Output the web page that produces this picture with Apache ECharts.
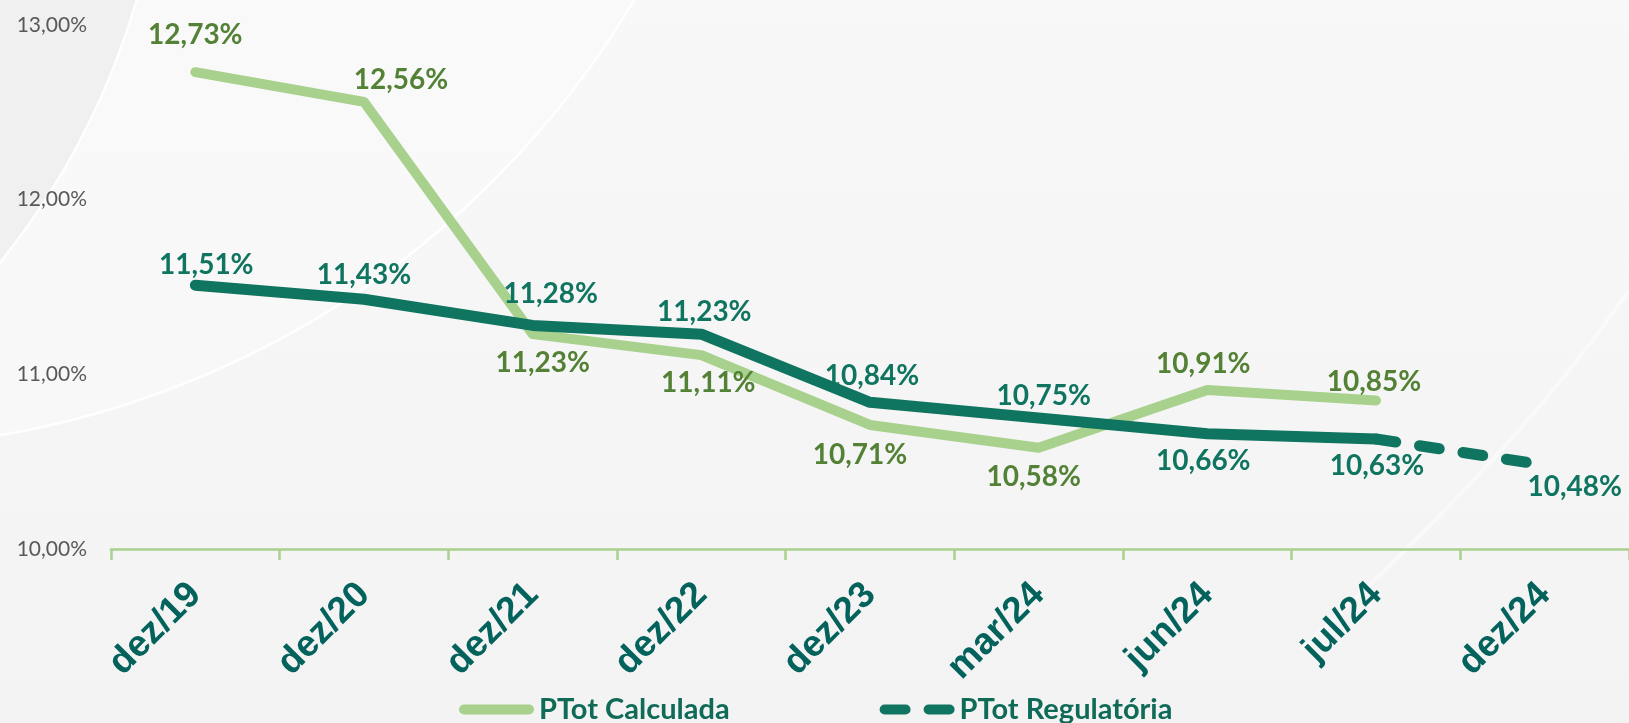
<!DOCTYPE html>
<html>
<head>
<meta charset="utf-8">
<title>PTot Calculada x PTot Regulatória</title>
<script src="https://cdn.jsdelivr.net/npm/echarts@6/dist/echarts.min.js"></script>
<style>
  html, body { margin: 0; padding: 0; background: #f6f6f6; }
  #chart { width: 1629px; height: 723px; }
</style>
</head>
<body>
<div id="chart"></div>
<script>
// Periods on the horizontal axis
const categories = ['dez/19', 'dez/20', 'dez/21', 'dez/22', 'dez/23', 'mar/24', 'jun/24', 'jul/24', 'dez/24'];

// PTot values (%)
const calculada = [12.73, 12.56, 11.23, 11.11, 10.71, 10.58, 10.91, 10.85, null];
const regulatoria = [11.51, 11.43, 11.28, 11.23, 10.84, 10.75, 10.66, 10.63, null];
// projected stretch of the regulatory line (drawn dashed)
const regulatoriaProjecao = [null, null, null, null, null, null, null, 10.63, 10.48];

// value axis range
const yMin = 10, yMax = 13, yStep = 1;

// label placement around each point: [dx, dy] from the point to the label centre
const calculadaLabelOffsets = [[0, -37], [37, -22], [10, 29], [7, 28], [-10, 30], [-5, 29], [-4, -26], [-2, -19], null];
const regulatoriaLabelOffsets = [[11, -20], [0, -24], [18, -31], [3, -22], [2, -26], [5, -22], [-4, 27], [1, 27], null];
const projecaoLabelOffsets = [null, null, null, null, null, null, null, null, [30, 22]];

const COLOR_CALC = '#a9d18e';
const COLOR_CALC_TEXT = '#538135';
const COLOR_REG = '#107560';
const COLOR_AXIS_TEXT = '#03625c';
const HIDDEN = 'rgba(0,0,0,0)';

const pct = v => v.toFixed(2).replace('.', ',') + '%';

function withLabels(values, offsets, textColor) {
  return values.map((v, i) => {
    if (v === null) return null;
    const off = offsets[i];
    return {
      value: v,
      label: off ? {
        show: true,
        position: 'inside',
        offset: off,
        formatter: p => pct(p.value),
        color: textColor,
        fontFamily: 'Lato',
        fontWeight: 'bold',
        fontSize: 28
      } : { show: false }
    };
  });
}

const chart = echarts.init(document.getElementById('chart'), null, { renderer: 'canvas' });

chart.setOption({
  animation: false,
  backgroundColor: '#f6f6f6',
  graphic: [
    {
      type: 'rect', z: -10, silent: true,
      shape: { x: 0, y: 0, width: 1629, height: 723 },
      style: {
        fill: new echarts.graphic.LinearGradient(0, 0, 0, 1, [
          { offset: 0, color: '#f8f8f8' },
          { offset: 1, color: '#f3f3f3' }
        ])
      }
    },
    {
      type: 'circle', z: -9, silent: true,
      shape: { cx: -153, cy: -467, r: 915 },
      style: { fill: '#f8f8f8', stroke: '#ffffff', lineWidth: 2.5, opacity: 0.9 }
    },
    {
      type: 'circle', z: -8, silent: true,
      shape: { cx: -590, cy: -212, r: 757 },
      style: { fill: '#eeeeee', stroke: '#ffffff', lineWidth: 2.5, opacity: 0.9 }
    },
    {
      type: 'bezierCurve', z: -8, silent: true,
      shape: { x1: 1629, y1: 290, x2: 1300, y2: 650, cpx1: 1520, cpy1: 450 },
      style: { stroke: '#ffffff', lineWidth: 4, opacity: 0.45, fill: null }
    }
  ],
  grid: { left: 111, right: 0, top: 25, bottom: 174, containLabel: false },
  legend: {
    left: 454,
    top: 690,
    itemWidth: 75,
    itemHeight: 10,
    itemGap: 150,
    textStyle: { color: '#0f6b58', fontFamily: 'Lato', fontWeight: 'bold', fontSize: 29 },
    data: [
      { name: 'PTot Calculada', icon: 'path://M5,0H70A5,5,0,0,1,70,10H5A5,5,0,0,1,5,0Z', itemStyle: { color: COLOR_CALC } },
      { name: 'PTot Regulatória', icon: 'path://M5,0H26A5,5,0,0,1,26,10H5A5,5,0,0,1,5,0ZM49,0H70A5,5,0,0,1,70,10H49A5,5,0,0,1,49,0Z', itemStyle: { color: COLOR_REG } }
    ]
  },
  xAxis: {
    type: 'category',
    data: categories,
    boundaryGap: true,
    axisLine: { show: true, lineStyle: { color: COLOR_CALC, width: 2.5 } },
    axisTick: { show: true, length: 11, lineStyle: { color: COLOR_CALC, width: 2.5 } },
    axisLabel: {
      rotate: 45,
      margin: 40,
      color: COLOR_AXIS_TEXT,
      fontFamily: 'Liberation Sans',
      fontWeight: 'bold',
      fontSize: 37
    },
    splitLine: { show: false }
  },
  yAxis: {
    type: 'value',
    min: yMin,
    max: yMax,
    interval: yStep,
    axisLine: { show: false },
    axisTick: { show: false },
    splitLine: { show: false },
    axisLabel: {
      margin: 24,
      color: '#595959',
      fontFamily: 'Lato',
      fontSize: 21,
      formatter: v => pct(v)
    }
  },
  series: [
    {
      name: 'PTot Calculada',
      type: 'line',
      data: withLabels(calculada, calculadaLabelOffsets, COLOR_CALC_TEXT),
      symbol: 'circle',
      symbolSize: 2,
      itemStyle: { color: HIDDEN },
      lineStyle: { color: COLOR_CALC, width: 10, cap: 'round', join: 'round' },
      z: 2
    },
    {
      name: 'PTot Regulatória',
      type: 'line',
      data: withLabels(regulatoria, regulatoriaLabelOffsets, COLOR_REG),
      symbol: 'circle',
      symbolSize: 2,
      itemStyle: { color: HIDDEN },
      lineStyle: { color: COLOR_REG, width: 11, cap: 'round', join: 'round' },
      z: 3
    },
    {
      name: 'PTot Regulatória',
      type: 'line',
      data: withLabels(regulatoriaProjecao, projecaoLabelOffsets, COLOR_REG),
      symbol: 'circle',
      symbolSize: 2,
      itemStyle: { color: HIDDEN },
      lineStyle: { color: COLOR_REG, width: 11, type: [20, 24], cap: 'round', join: 'round' },
      z: 3
    }
  ]
});
</script>
</body>
</html>
